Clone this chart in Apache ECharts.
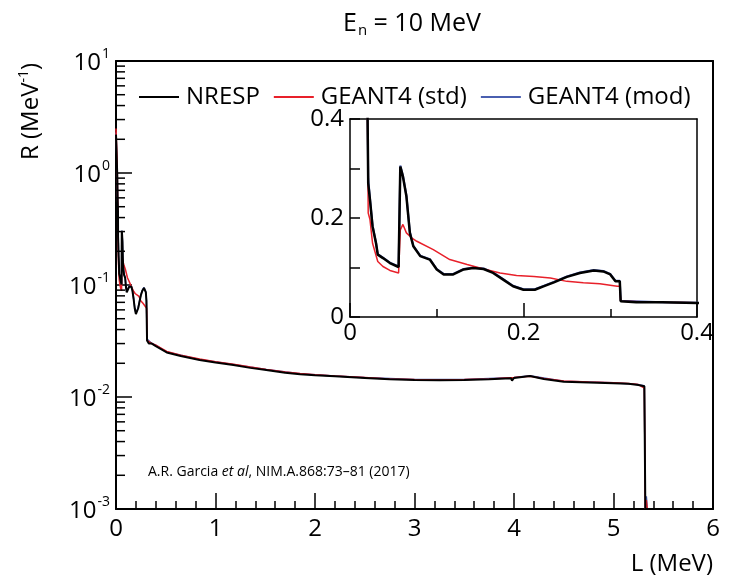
<!DOCTYPE html>
<html>
<head>
<meta charset="utf-8">
<script src="https://cdn.jsdelivr.net/npm/echarts@6/dist/echarts.min.js"></script>
<style>
  html, body { margin: 0; padding: 0; background: #fff; }
  #chart { width: 729px; height: 583px; }
</style>
</head>
<body>
<div id="chart"></div>
<script>
  // light output L (MeV) and response R (MeV^-1)
  var nrespL = [0, 0.01, 0.012, 0.016, 0.02, 0.021, 0.023, 0.026, 0.03, 0.032, 0.038, 0.046, 0.056, 0.0575,
    0.058, 0.061, 0.065, 0.069, 0.073, 0.081, 0.092, 0.1, 0.108, 0.119, 0.131, 0.142, 0.154, 0.165,
    0.177, 0.188, 0.2, 0.213, 0.223, 0.235, 0.25, 0.265, 0.281, 0.292, 0.3, 0.306, 0.311, 0.312,
    0.33, 0.36, 0.4, 0.51, 0.65, 0.84, 1.0, 1.18, 1.35, 1.51, 1.7, 1.85, 2.0, 2.2, 2.5, 2.75, 3.0,
    3.25, 3.5, 3.75, 3.97, 3.98, 4.0, 4.16, 4.3, 4.5, 4.75, 5.0, 5.15, 5.25, 5.31, 5.32, 6.0];
  var nrespR = [2.2, 2.2, 1.0, 0.6, 0.45, 0.27, 0.237, 0.183, 0.149, 0.126, 0.119, 0.109, 0.101, 0.101,
    0.304, 0.284, 0.244, 0.17, 0.143, 0.123, 0.116, 0.096, 0.086, 0.086, 0.096, 0.099, 0.097, 0.089,
    0.075, 0.062, 0.055, 0.055, 0.062, 0.07, 0.081, 0.089, 0.094, 0.092, 0.086, 0.072, 0.072, 0.032,
    0.030, 0.030, 0.0285, 0.0250, 0.0232, 0.0214, 0.0203, 0.0193, 0.0182, 0.0174, 0.0165, 0.0160, 0.0156, 0.0153, 0.0148, 0.0144, 0.0142,
    0.0141, 0.0142, 0.0144, 0.0147, 0.0140, 0.0148, 0.0154, 0.0145, 0.0137, 0.0135, 0.0133, 0.0131, 0.0128, 0.0125, 0.001, 0.001];

  var stdL = [0, 0.01, 0.012, 0.016, 0.02, 0.021, 0.023, 0.026, 0.032, 0.038, 0.046, 0.056, 0.0575,
    0.058, 0.061, 0.065, 0.071, 0.077, 0.096, 0.115, 0.135, 0.154, 0.173, 0.192, 0.212, 0.231,
    0.25, 0.269, 0.288, 0.308, 0.311, 0.312, 0.36, 0.4, 0.51, 0.65, 0.84, 1.0, 1.18, 1.35, 1.51, 1.7,
    1.85, 2.0, 2.2, 2.5, 2.75, 3.0, 3.25, 3.5, 3.75, 4.0, 4.16, 4.3, 4.5, 4.75, 5.0, 5.15, 5.25, 5.31,
    5.32, 5.33, 5.335, 5.34, 6.0];
  var stdR = [2.5, 2.5, 1.2, 0.6, 0.45, 0.21, 0.197, 0.149, 0.112, 0.102, 0.094, 0.089, 0.089,
    0.176, 0.187, 0.17, 0.16, 0.153, 0.136, 0.116, 0.106, 0.097, 0.089, 0.084, 0.082, 0.079,
    0.072, 0.069, 0.067, 0.062, 0.062, 0.032, 0.030, 0.029, 0.0255, 0.0236, 0.0218, 0.0206, 0.0196, 0.0185, 0.0176, 0.0167,
    0.0162, 0.0158, 0.0154, 0.0149, 0.0145, 0.0143, 0.0142, 0.0143, 0.0145, 0.0149, 0.0153, 0.0146, 0.0139, 0.0136, 0.0134, 0.0132, 0.0129, 0.0120,
    0.001, 0.0012, 0.0012, 0.001, 0.001];

  var modL = [0, 0.01, 0.012, 0.016, 0.02, 0.021, 0.023, 0.026, 0.03, 0.032, 0.038, 0.046, 0.056, 0.0575,
    0.058, 0.061, 0.065, 0.069, 0.073, 0.081, 0.092, 0.1, 0.108, 0.119, 0.131, 0.142, 0.154, 0.165,
    0.177, 0.188, 0.2, 0.213, 0.223, 0.235, 0.25, 0.265, 0.281, 0.292, 0.3, 0.306, 0.311, 0.312,
    0.36, 0.4, 0.51, 0.84, 1.18, 1.51, 1.85, 2.2, 2.5, 3.0, 3.5, 4.0, 4.16, 4.5, 5.0, 5.25, 5.31,
    5.32, 5.33, 5.335, 5.34, 6.0];
  var modR = [2.3, 2.3, 1.1, 0.6, 0.45, 0.28, 0.24, 0.185, 0.15, 0.127, 0.12, 0.11, 0.102, 0.102,
    0.306, 0.286, 0.246, 0.172, 0.144, 0.124, 0.117, 0.097, 0.087, 0.087, 0.097, 0.1, 0.098, 0.09,
    0.076, 0.063, 0.056, 0.056, 0.063, 0.071, 0.082, 0.09, 0.095, 0.093, 0.087, 0.073, 0.073, 0.033,
    0.030, 0.029, 0.0252, 0.0216, 0.0195, 0.0176, 0.0161, 0.0154, 0.0149, 0.0143, 0.0143, 0.0149, 0.0155, 0.0138, 0.0134, 0.0129, 0.0126,
    0.001, 0.0013, 0.0013, 0.001, 0.001];

  var legendNames = ['NRESP', 'GEANT4 (std)', 'GEANT4 (mod)'];
  var decadeLabels = [-3, -2, -1, 0, 1];

  function pairs(xs, ys) {
    return xs.map(function (x, i) { return [x, ys[i]]; });
  }

  // minor ticks of the log axis (2..9 x 10^n)
  var logMinor = [];
  decadeLabels.slice(0, 4).forEach(function (e) {
    for (var k = 2; k <= 9; k++) logMinor.push([0, k * Math.pow(10, e)]);
  });

  var font = '"Open Sans", sans-serif';
  var supRich = {
    b: { fontSize: 24, fontFamily: font, color: '#000', lineHeight: 28, verticalAlign: 'bottom' },
    s: { fontSize: 14, fontFamily: font, color: '#000', lineHeight: 28, verticalAlign: 'top', padding: [0, 0, 0, 1] }
  };
  var tickLine = { color: '#000', width: 1.5 };

  // plain axis used only as the top / right frame line
  function frameAxis(grid, pos, type, min, max, width) {
    return {
      gridIndex: grid, position: pos, type: type, min: min, max: max,
      axisLine: { show: true, onZero: false, lineStyle: { color: '#000', width: width } },
      axisTick: { show: false }, axisLabel: { show: false }, splitLine: { show: false }
    };
  }

  var chart = echarts.init(document.getElementById('chart'));

  var option = {
    backgroundColor: '#fff',
    animation: false,
    title: {
      text: '{a|E}{s|n}{a| = 10 MeV}',
      left: 338,
      top: 2,
      textStyle: {
        fontWeight: 'normal',
        rich: {
          a: { fontSize: 25, fontFamily: font, fontWeight: 'normal', color: '#000', lineHeight: 34 },
          s: { fontSize: 15, fontFamily: font, fontWeight: 'normal', color: '#000', lineHeight: 34, padding: [14, 0, 0, 1] }
        }
      }
    },
    legend: {
      data: legendNames,
      left: 134,
      top: 80,
      icon: 'rect',
      itemWidth: 40,
      itemHeight: 2,
      itemGap: 14,
      textStyle: { fontSize: 24, fontFamily: font, color: '#000', padding: [0, 0, 0, 2] }
    },
    grid: [
      { left: 116, top: 61, width: 597, height: 448 },
      { left: 350, top: 119, width: 347, height: 198 }
    ],
    xAxis: [
      {
        gridIndex: 0, type: 'value', min: 0, max: 6, interval: 1,
        axisLine: { show: true, onZero: false, lineStyle: { color: '#000', width: 2 } },
        axisTick: { show: true, inside: true, length: 16, lineStyle: tickLine },
        minorTick: { show: true, splitNumber: 5, length: 8, lineStyle: tickLine },
        splitLine: { show: false },
        axisLabel: { fontSize: 24, fontFamily: font, color: '#000', margin: 8 }
      },
      {
        gridIndex: 1, type: 'value', min: 0, max: 0.4, interval: 0.2,
        axisLine: { show: true, onZero: false, lineStyle: { color: '#000', width: 1.5 } },
        axisTick: { show: true, inside: true, length: 14, lineStyle: tickLine },
        minorTick: { show: true, splitNumber: 2, length: 8, lineStyle: tickLine },
        splitLine: { show: false },
        axisLabel: { fontSize: 24, fontFamily: font, color: '#000', margin: 4,
          formatter: function (v) { return v === 0 ? '0' : String(+v.toFixed(1)); } }
      },
      frameAxis(0, 'top', 'value', 0, 6, 2),
      frameAxis(1, 'top', 'value', 0, 0.4, 1.5)
    ],
    yAxis: [
      {
        gridIndex: 0, type: 'log', logBase: 10, min: 0.001, max: 10,
        axisLine: { show: true, onZero: false, lineStyle: { color: '#000', width: 2 } },
        axisTick: { show: true, inside: true, length: 16, lineStyle: tickLine },
        splitLine: { show: false },
        axisLabel: {
          margin: 6,
          formatter: function (v) {
            var e = Math.round(Math.log10(v));
            return '{b|10}{s|' + e + '}';
          },
          rich: supRich
        }
      },
      {
        gridIndex: 1, type: 'value', min: 0, max: 0.4, interval: 0.2,
        axisLine: { show: true, onZero: false, lineStyle: { color: '#000', width: 1.5 } },
        axisTick: { show: true, inside: true, length: 10, lineStyle: tickLine },
        minorTick: { show: true, splitNumber: 2, length: 10, lineStyle: tickLine },
        splitLine: { show: false },
        axisLabel: { fontSize: 24, fontFamily: font, color: '#000', margin: 6,
          formatter: function (v) { return v === 0 ? '0' : String(+v.toFixed(1)); } }
      },
      frameAxis(0, 'right', 'value', 0, 1, 2),
      frameAxis(1, 'right', 'value', 0, 1, 1.5)
    ],
    graphic: [
      {
        type: 'text', x: 31, y: 160, rotation: Math.PI / 2,
        style: {
          text: '{a|R (MeV}{s|-1}{a|)}',
          align: 'left', verticalAlign: 'middle',
          rich: {
            a: { fontSize: 24, fontFamily: font, fill: '#000', lineHeight: 28 },
            s: { fontSize: 14, fontFamily: font, fill: '#000', lineHeight: 28, verticalAlign: 'top' }
          }
        }
      },
      {
        type: 'text', right: 16, top: 552,
        style: { text: 'L (MeV)', font: '24px ' + font, fill: '#000' }
      },
      {
        type: 'text', x: 148, y: 472, z: 10,
        style: {
          text: '{a|A.R. Garcia }{i|et al}{a|, NIM.A.868:73\u201381 (2017)}',
          verticalAlign: 'middle',
          rich: {
            a: { fontSize: 14, fontFamily: font, fill: '#000' },
            i: { fontSize: 14, fontFamily: font, fill: '#000', fontStyle: 'italic' }
          }
        }
      }
    ],
    series: [
      {
        type: 'custom', xAxisIndex: 0, yAxisIndex: 0, silent: true, z: 10,
        data: logMinor,
        renderItem: function (params, api) {
          var p = api.coord([api.value(0), api.value(1)]);
          return { type: 'rect', shape: { x: p[0], y: p[1] - 0.75, width: 9, height: 1.5 },
            style: { fill: '#000' } };
        }
      },
      { name: 'GEANT4 (mod)', type: 'line', xAxisIndex: 0, yAxisIndex: 0, symbol: 'none',
        lineStyle: { color: '#4a5fb0', width: 1.5 }, itemStyle: { color: '#4a5fb0' }, data: pairs(modL, modR) },
      { name: 'GEANT4 (std)', type: 'line', xAxisIndex: 0, yAxisIndex: 0, symbol: 'none',
        lineStyle: { color: '#e8202a', width: 1.5 }, itemStyle: { color: '#e8202a' }, data: pairs(stdL, stdR) },
      { name: 'NRESP', type: 'line', xAxisIndex: 0, yAxisIndex: 0, symbol: 'none',
        lineStyle: { color: '#000', width: 2 }, itemStyle: { color: '#000' }, data: pairs(nrespL, nrespR) },

      { name: 'GEANT4 (mod)', type: 'line', xAxisIndex: 1, yAxisIndex: 1, symbol: 'none',
        lineStyle: { color: '#4a5fb0', width: 2 }, itemStyle: { color: '#4a5fb0' }, data: pairs(modL, modR) },
      { name: 'GEANT4 (std)', type: 'line', xAxisIndex: 1, yAxisIndex: 1, symbol: 'none',
        lineStyle: { color: '#e8202a', width: 1.5 }, itemStyle: { color: '#e8202a' }, data: pairs(stdL, stdR) },
      { name: 'NRESP', type: 'line', xAxisIndex: 1, yAxisIndex: 1, symbol: 'none',
        lineStyle: { color: '#000', width: 2.5 }, itemStyle: { color: '#000' }, data: pairs(nrespL, nrespR) }
    ]
  };

  chart.setOption(option);
</script>
</body>
</html>
